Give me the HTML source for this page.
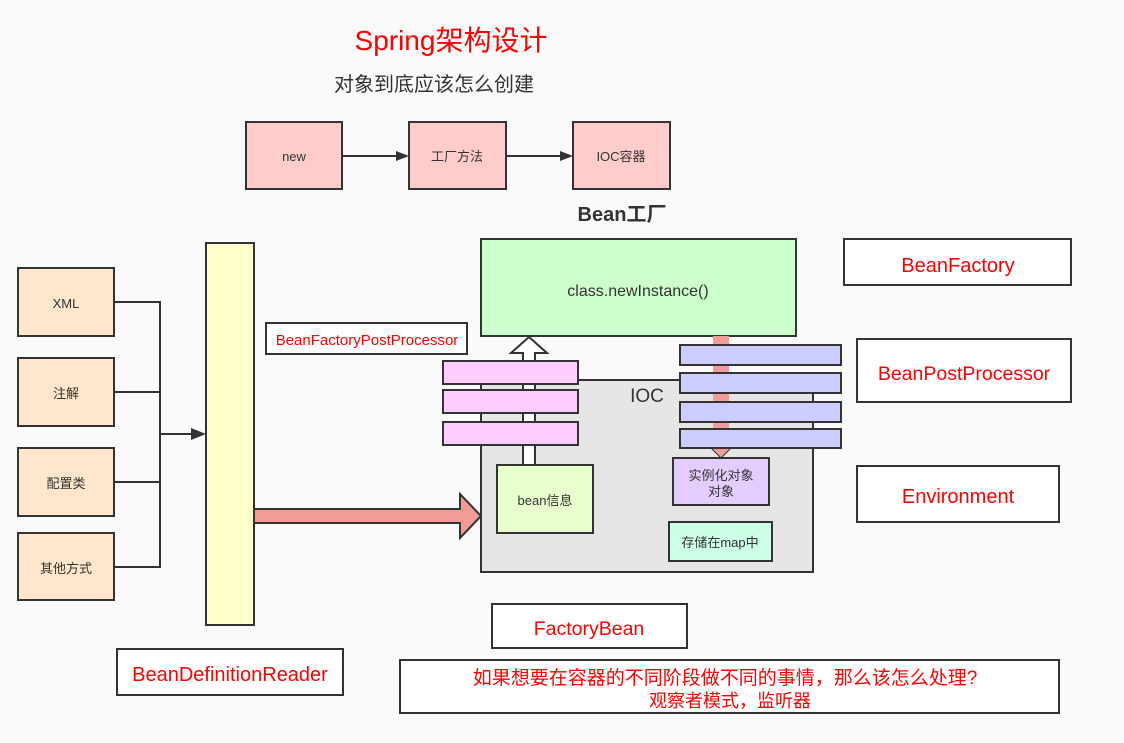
<!DOCTYPE html>
<html><head><meta charset="utf-8"><style>
html,body{margin:0;padding:0;background:#fafafa;}
svg{display:block;font-family:"Liberation Sans","Noto Sans CJK SC",sans-serif;}
</style></head><body>
<svg width="1124" height="743" viewBox="0 0 1124 743" xmlns="http://www.w3.org/2000/svg">
<rect width="1124" height="743" fill="#fafafa"/>
<text x="451" y="50" font-size="28" fill="#ff0000" text-anchor="middle">Spring架构设计</text>
<text x="434" y="91" font-size="20" fill="#333" text-anchor="middle">对象到底应该怎么创建</text>
<text x="622" y="221" font-size="20" fill="#333" font-weight="bold" text-anchor="middle">Bean工厂</text>

<g stroke="#333" stroke-width="2">
<rect x="246" y="122" width="96" height="67" fill="#ffcccc"/>
<rect x="409" y="122" width="97" height="67" fill="#ffcccc"/>
<rect x="573" y="122" width="97" height="67" fill="#ffcccc"/>
<line x1="342" y1="156" x2="398" y2="156"/>
<line x1="506" y1="156" x2="562" y2="156"/>
</g>
<polygon points="396,151 409,156 396,161" fill="#333"/>
<polygon points="560,151 573,156 560,161" fill="#333"/>
<g font-size="13" fill="#333" text-anchor="middle">
<text x="294" y="161">new</text>
<text x="457" y="161">工厂方法</text>
<text x="621" y="161">IOC容器</text>
</g>

<g stroke="#333" stroke-width="2" fill="none">
<rect x="18" y="268" width="96" height="68" fill="#ffe6cc"/>
<rect x="18" y="358" width="96" height="68" fill="#ffe6cc"/>
<rect x="18" y="448" width="96" height="68" fill="#ffe6cc"/>
<rect x="18" y="533" width="96" height="67" fill="#ffe6cc"/>
<polyline points="114,302 160,302 160,567 114,567"/>
<line x1="114" y1="392" x2="160" y2="392"/>
<line x1="114" y1="482" x2="160" y2="482"/>
<line x1="160" y1="434" x2="195" y2="434"/>
</g>
<polygon points="191,428 206,434 191,440" fill="#333"/>
<g font-size="13" fill="#333" text-anchor="middle">
<text x="66" y="308">XML</text>
<text x="66" y="398">注解</text>
<text x="66" y="488">配置类</text>
<text x="66" y="573">其他方式</text>
</g>
<rect x="206" y="243" width="48" height="382" fill="#ffffcc" stroke="#333" stroke-width="2"/>

<rect x="481" y="380" width="332" height="192" fill="#e6e6e6" stroke="#333" stroke-width="2"/>
<text x="647" y="402" font-size="19" fill="#333" text-anchor="middle">IOC</text>
<rect x="481" y="239" width="315" height="97" fill="#ccffcc" stroke="#333" stroke-width="2"/>
<text x="638" y="296" font-size="16" fill="#333" text-anchor="middle">class.newInstance()</text>

<polygon points="523,465 523,353 511,353 529,337 547,353 535,353 535,465" fill="#fff" stroke="#333" stroke-width="2"/>
<g stroke="#333" stroke-width="2" fill="#ffccff">
<rect x="443" y="361" width="135" height="23"/>
<rect x="443" y="390" width="135" height="23"/>
<rect x="443" y="422" width="135" height="23"/>
</g>

<rect x="713" y="336" width="16" height="112" fill="#f19c99"/>
<polygon points="711,448 731,448 721,458" fill="#f19c99" stroke="#333" stroke-width="1"/>
<g stroke="#333" stroke-width="2" fill="#ccccff">
<rect x="680" y="345" width="161" height="20"/>
<rect x="680" y="373" width="161" height="20"/>
<rect x="680" y="402" width="161" height="20"/>
<rect x="680" y="429" width="161" height="19"/>
</g>

<rect x="497" y="465" width="96" height="68" fill="#e6ffcc" stroke="#333" stroke-width="2"/>
<text x="545" y="505" font-size="13" fill="#333" text-anchor="middle">bean信息</text>
<rect x="673" y="458" width="96" height="47" fill="#e5ccff" stroke="#333" stroke-width="2"/>
<text x="721" y="480" font-size="13" fill="#333" text-anchor="middle">实例化对象</text>
<text x="721" y="496" font-size="13" fill="#333" text-anchor="middle">对象</text>
<rect x="669" y="522" width="103" height="39" fill="#ccffe6" stroke="#333" stroke-width="2"/>
<text x="720" y="547" font-size="13" fill="#333" text-anchor="middle">存储在map中</text>

<polygon points="254,509 460,509 460,494 481,516 460,538 460,523 254,523" fill="#f19c99" stroke="#333" stroke-width="2"/>

<g stroke="#333" stroke-width="2" fill="#fff">
<rect x="844" y="239" width="227" height="46"/>
<rect x="857" y="339" width="214" height="63"/>
<rect x="857" y="466" width="202" height="56"/>
<rect x="266" y="323" width="201" height="31"/>
<rect x="492" y="604" width="195" height="44"/>
<rect x="117" y="649" width="226" height="46"/>
<rect x="400" y="660" width="659" height="53"/>
</g>
<g fill="#ff0000" text-anchor="middle">
<text x="958" y="272" font-size="20">BeanFactory</text>
<text x="964" y="380" font-size="19.5">BeanPostProcessor</text>
<text x="958" y="503" font-size="20">Environment</text>
<text x="367" y="345" font-size="15">BeanFactoryPostProcessor</text>
<text x="589" y="635" font-size="19.5">FactoryBean</text>
<text x="230" y="681" font-size="20">BeanDefinitionReader</text>
<text x="725" y="684" font-size="19">如果想要在容器的不同阶段做不同的事情，那么该怎么处理?</text>
<text x="730" y="707" font-size="18">观察者模式，监听器</text>
</g>
</svg>
</body></html>
